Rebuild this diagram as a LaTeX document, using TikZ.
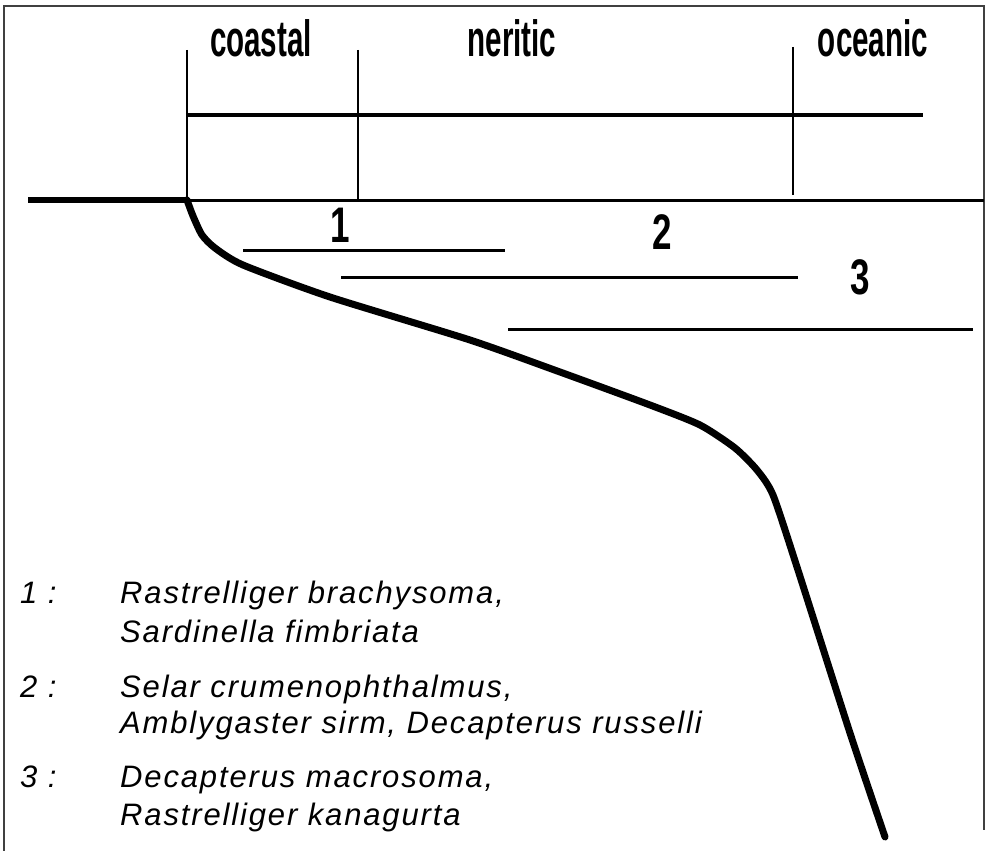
\documentclass[tikz,border=0pt]{standalone}
\usepackage{fontspec}
\setmainfont{Liberation Sans}
\newfontfamily\condfont[FakeStretch=0.58]{Liberation Sans Bold}
\newfontfamily\digfont[FakeStretch=0.7]{Liberation Sans Bold}
\newfontfamily\legfont[LetterSpace=6]{Liberation Sans Italic}
\begin{document}
\begin{tikzpicture}[x=1pt,y=-1pt,
  frameline/.style={draw=black!75,line width=1.5pt},
  thinv/.style={draw=black,line width=1.5pt},
  rangeline/.style={draw=black,line width=3pt},
  zonelabel/.style={font=\condfont\fontsize{51}{51}\selectfont,anchor=base,inner sep=0pt},
  grouplabel/.style={font=\digfont\fontsize{50}{50}\selectfont,anchor=base,inner sep=0pt},
  legtext/.style={font=\legfont\fontsize{31}{31}\selectfont,anchor=base west,inner sep=0pt},
  profile/.style={draw=black,line width=7pt,line join=round,line cap=round}]
\useasboundingbox (0,0) rectangle (988,851);
% frame
\draw[frameline] (4,851) -- (4,6) -- (984,6) -- (984,830);
% zone boundaries
\coordinate (v1t) at (187,50);  \coordinate (v1b) at (187,200);
\coordinate (v2t) at (358,50);  \coordinate (v2b) at (358,200);
\coordinate (v3t) at (793,47);  \coordinate (v3b) at (793,195);
\draw[thinv] (v1t) -- (v1b);
\draw[thinv] (v2t) -- (v2b);
\draw[thinv] (v3t) -- (v3b);
\coordinate (hl) at (187,115); \coordinate (hr) at (923,115);
\draw[draw=black,line width=3.5pt] (hl) -- (hr);
% sea surface and land
\coordinate (land) at (28,200); \coordinate (shore) at (187,200); \coordinate (seaR) at (984,200);
\draw[draw=black,line width=6pt] (land) -- (shore);
\draw[draw=black,line width=3pt] (shore) -- (seaR);
% zone labels
\node[zonelabel] (coastal) at (261,57) {coastal};
\node[zonelabel] (neritic) at (512,57) {neritic};
\node[zonelabel] (oceanic) at (873,57) {oceanic};
% species range lines
\coordinate (r1a) at (243,250); \coordinate (r1b) at (505,250);
\coordinate (r2a) at (341,277); \coordinate (r2b) at (798,277);
\coordinate (r3a) at (508,329); \coordinate (r3b) at (973,329);
\draw[rangeline] (r1a) -- (r1b);
\draw[rangeline] (r2a) -- (r2b);
\draw[rangeline] (r3a) -- (r3b);
\node[grouplabel] (g1) at (340,242) {1};
\node[grouplabel] (g2) at (662,249) {2};
\node[grouplabel] (g3) at (860,294) {3};
% depth profile
\draw[profile] plot[smooth,tension=0.4] coordinates {
 (187,200) (193,216) (202,235) (215,248) (243,265) (330,297) (470,340)
 (560,372) (650,405) (700,425) (735,448) (757,470) (773,495) (797,567)
 (850,733) (885,837)};
% legend
\node[legtext] (n1) at (20,603) {1 :};
\node[legtext] (t1a) at (120,603) {Rastrelliger brachysoma,};
\node[legtext] (t1b) at (120,642) {Sardinella fimbriata};
\node[legtext] (n2) at (20,697) {2 :};
\node[legtext] (t2a) at (120,697) {Selar crumenophthalmus,};
\node[legtext] (t2b) at (120,733) {Amblygaster sirm, Decapterus russelli};
\node[legtext] (n3) at (20,787) {3 :};
\node[legtext] (t3a) at (120,787) {Decapterus macrosoma,};
\node[legtext] (t3b) at (120,825) {Rastrelliger kanagurta};
\end{tikzpicture}
\end{document}
